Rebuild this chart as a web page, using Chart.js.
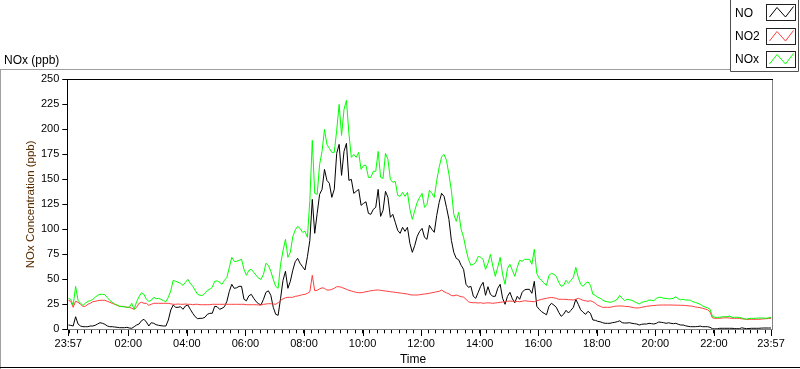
<!DOCTYPE html>
<html>
<head>
<meta charset="utf-8">
<script src="https://cdn.jsdelivr.net/npm/chart.js@4/dist/chart.umd.min.js"></script>
<style>
html,body{margin:0;padding:0;background:#ffffff;}
canvas{display:block;}
</style>
</head>
<body>
<canvas id="c" width="800" height="369"></canvas>
<script>
// ---- data (5-minute samples, first sample at 23:57 = -3 min from midnight) ----
const seriesNames = ['NO', 'NO2', 'NOx'];
const seriesColors = ['#000000', '#ff3d3d', '#00ff00'];
const startMinute = -3;
const stepMinutes = 5;

const noValues = [
  4.3, 4, 3.3, 12.6, 5.3, 3.3, 2.6, 2.6, 2.6, 3.3, 3.3, 4,
  5.3, 6.6, 6, 5, 3.3, 2.6, 2.6, 2.3, 2, 1.6, 1.6, 1.6,
  2, 1.3, 1, 2.6, 4.3, 5.3, 8.6, 10, 7.3, 3.3, 6.6, 6,
  4.6, 4, 3.6, 3.3, 3.3, 9.3, 19.3, 24.3, 22, 22, 22.6, 20,
  23.3, 24.3, 20, 16, 12.6, 10.6, 11, 11, 12, 15, 16, 16,
  23, 22.6, 20, 21, 22.6, 28, 38, 45, 41, 41.5, 43, 43,
  30, 28.5, 33.5, 35, 31, 27.6, 25.5, 24.5, 30, 37, 38.5, 34,
  22, 15, 14, 31, 49, 58, 41, 48, 59, 67.6, 71, 66,
  62.6, 59.3, 72.6, 89, 130, 96, 116, 135, 140, 160, 149, 146,
  132, 140, 176, 185, 154, 178, 186, 149, 150, 136, 138, 140,
  124, 126, 127.6, 116, 115, 120, 122, 140, 113, 119, 138, 132,
  112, 115, 107, 99, 96, 102, 98, 102, 86, 77, 84, 93,
  98, 101, 92, 90, 104, 100, 97, 114, 127, 136, 133, 122,
  110, 89, 77, 71, 69.5, 64, 60, 45, 42, 43, 33, 31,
  37, 43, 47, 34, 42.6, 35, 33, 33, 41, 45, 31, 25,
  33, 37, 30.5, 26.5, 33, 30, 37, 39.5, 40, 40, 36, 48,
  23, 20, 17.6, 16, 14.5, 23, 26, 24.3, 22, 17, 13, 15,
  19, 16.3, 19, 22, 30, 25, 19.5, 17, 15, 18, 16, 9.3,
  9, 8, 7.5, 6.6, 6, 6, 6, 6.6, 7, 7.6, 8.5, 6.6,
  6.3, 6.3, 6.6, 6, 5.6, 5.3, 4.3, 5, 5.3, 5.3, 6, 5.6,
  5.3, 6, 7.3, 7, 6.6, 6, 6.5, 6, 5.6, 6, 5, 4.3,
  4.3, 3.5, 3, 2.6, 2.6, 2.6, 2.8, 3.2, 2.6, 2.6, 2.6, 2,
  0.6, 0.4, 0.5, 1, 1, 1, 1, 1, 1, 0.8, 0.6, 0.6,
  1.5, 1, 0.6, 0.8, 1, 1, 1, 1, 1.2, 1.3, 1.3, 1.3,
  1.3
];

const no2Values = [
  29, 28, 22, 28, 27, 25, 23, 23, 25, 26, 27.6, 28,
  28.6, 29, 29, 29, 28, 27, 26, 25, 24, 23, 23, 22.6,
  22, 22, 21, 20, 22, 26, 27, 26, 26, 24, 25, 26,
  26, 26, 26, 26, 26, 26, 25.5, 25, 25, 25.3, 25, 25,
  25.3, 25, 25, 24.6, 25, 25, 24.6, 24.6, 24.6, 24.6, 24.6, 25,
  25, 25, 25, 25, 25, 25, 25, 25, 25, 25, 25, 25,
  25, 24.6, 24.6, 24.6, 24.6, 24.6, 24.3, 24.3, 25, 25.3, 25.6, 25.6,
  25.3, 25, 26.6, 29, 30.5, 31.5, 32, 32, 32, 33, 33.3, 34,
  34.6, 35, 36, 37.6, 54, 38.6, 39, 40.5, 41.5, 41, 39.3, 39.3,
  40, 41, 42.6, 42.6, 42, 41, 40, 39, 38.3, 37.6, 37, 36.6,
  36.6, 37, 37.6, 38, 38.6, 38.8, 39.3, 39.3, 39, 38.6, 38.3, 38,
  37.6, 37.3, 37, 36.6, 36.3, 36, 35.6, 35.3, 34.6, 34.3, 34.3, 34.3,
  34.6, 35, 35.3, 35.6, 36, 36.6, 37, 37.6, 38, 39.3, 37.6, 36.5,
  35.5, 33.8, 33.5, 34.3, 33.5, 32.6, 32.2, 30, 27.6, 26.8, 26.6, 26.6,
  26.3, 26.6, 26, 26.3, 26.5, 26.3, 26, 26.3, 26.6, 27, 27.3, 27.6,
  28, 28.3, 28, 28, 27.8, 27.6, 28, 28.6, 28.3, 28, 27.8, 27.6,
  28.5, 29.3, 30, 30.5, 31, 31.5, 31.8, 31.5, 31, 30, 30, 30,
  30, 29.6, 29.5, 29.3, 30, 31, 30, 29, 28.5, 28, 28.5, 27.6,
  26, 24, 23, 22, 22, 22, 22, 22.5, 23, 23.3, 23.3, 23.3,
  23, 22.8, 22.6, 22, 21.6, 21.3, 21.5, 22, 22.5, 23, 23.3, 23.6,
  23.8, 24, 24.2, 24.3, 24.3, 24.3, 24.3, 24.3, 24.2, 24.2, 24.1, 24,
  24, 23.8, 23.5, 23.3, 23, 22.3, 22, 21.6, 21, 20.3, 19.5, 17.5,
  11.5, 11, 11, 11, 11.3, 11.5, 11.5, 11.3, 11, 11, 11, 11,
  10.5, 10.2, 10, 10, 10, 10, 10, 10, 10.2, 10.4, 10.6, 10.8,
  11
];

const noxValues = [
  31, 30, 24, 43, 29, 26, 24, 26, 28, 28.6, 30, 32,
  34, 35, 35, 34.6, 31.6, 29, 27, 25.3, 24.3, 23, 22.6, 22.6,
  22, 22, 26, 20, 27.6, 32.6, 36.6, 35, 30, 28, 29, 32,
  30.6, 31, 30, 28.6, 27.6, 32, 38.6, 49, 48, 47, 46, 44,
  47, 50, 46, 43, 39, 35, 34, 34, 36, 39, 40, 42,
  48, 48.5, 47, 45, 49, 52, 62, 72, 68, 68, 69, 70,
  60, 54, 59, 60, 57, 54, 51, 50, 55, 66, 64, 58,
  50, 43, 41, 65, 78.6, 90, 72, 77, 92.6, 99.3, 103, 101,
  97, 98, 92, 129, 189, 136, 135, 165, 178, 200, 185, 181,
  177, 177, 199, 225, 194, 220, 229, 196, 172, 175, 172, 177,
  160, 164, 164, 152, 152, 158, 158, 178, 152, 151, 176, 170,
  150, 147, 148, 134, 133, 137, 133, 137, 120, 110, 119, 127,
  132, 136, 122, 125, 139, 136, 132, 149, 162, 172.6, 175, 169,
  155, 139, 115, 108, 117, 100, 92, 80, 70, 64, 65, 67,
  73, 72, 70, 60, 66, 75, 63, 53, 62, 72, 55, 45,
  61, 65, 59, 53, 62, 69, 68, 70, 70, 70, 65, 80,
  56, 51, 49, 46, 44, 54, 56, 55, 53, 47, 43, 44,
  49, 46, 49, 52, 62, 52, 45, 43, 46, 47.5, 44, 35,
  34, 32, 31, 29.3, 28, 27.5, 27, 27.6, 28.5, 30, 34, 31,
  28.6, 30, 29.5, 29, 27.6, 26.5, 25.3, 27, 27.6, 28, 29.3, 29,
  28.6, 31, 32, 32, 31, 31, 30.5, 30.5, 31, 32.6, 30.5, 29.5,
  30, 29.3, 29.3, 29, 27.6, 26.8, 26, 25, 23.3, 22.3, 21.5, 20,
  13, 12, 12, 12, 12.6, 12.6, 12.6, 13.3, 12, 12, 12, 12,
  11.3, 10.6, 10, 11, 11, 11, 11, 11.3, 11.3, 11.3, 11, 11.5,
  12
];

// ---- axis ticks and titles ----
const xTickMinutes = [-3, 120, 240, 360, 480, 600, 720, 840, 960, 1080, 1200, 1320, 1437];
const xTickLabels = ['23:57', '02:00', '04:00', '06:00', '08:00', '10:00', '12:00', '14:00', '16:00', '18:00', '20:00', '22:00', '23:57'];
const xMinorStep = 15;
const yTicks = [0, 25, 50, 75, 100, 125, 150, 175, 200, 225, 250];
const xTitle = 'Time';
const yTitle = 'NOx Concentration (ppb)';
const chartTitle = 'NOx (ppb)';

// ---- build ----
const FONT = "'Liberation Sans', Arial, sans-serif";
const times = noValues.map((_, i) => startMinute + i * stepMinutes);
const toPoints = arr => arr.map((v, i) => ({x: times[i], y: v}));
const allXTicks = [-3];
for (let m = 0; m <= 1425; m += xMinorStep) allXTicks.push(m);
allXTicks.push(1437);

const valueSets = [noValues, no2Values, noxValues];
const drawOrder = [2, 1, 0];
const datasets = seriesNames.map((n, i) => ({
  label: n,
  data: toPoints(valueSets[i]),
  borderColor: seriesColors[i],
  borderWidth: 1,
  pointRadius: 0,
  tension: 0,
  fill: false,
  order: drawOrder[i]
}));

const framePlugin = {
  id: 'frame',
  afterDraw(chart) {
    const {ctx, chartArea: a} = chart;
    ctx.save();
    // outer panel frame
    ctx.fillStyle = '#a0a0a0';
    ctx.fillRect(0, 69, 730, 1);
    ctx.fillRect(0, 69, 1, 300);
    ctx.fillStyle = '#000000';
    ctx.fillRect(0, 367, 800, 1);
    // plot frame
    const L = Math.round(a.left), R = Math.round(a.right) + 1, T = Math.round(a.top), B = Math.round(a.bottom);
    ctx.fillStyle = '#808080';
    ctx.fillRect(R, T, 1, B - T + 1);
    ctx.fillRect(L, B, R - L + 1, 1);
    ctx.fillStyle = '#000000';
    ctx.fillRect(L, T, R - L + 1, 1);
    ctx.fillRect(L - 1, T, 1, B - T + 1);
    // longer major ticks on time axis
    const xs = chart.scales.x;
    ctx.strokeStyle = '#000000';
    ctx.lineWidth = 1;
    xTickMinutes.forEach(m => {
      const px = Math.round(xs.getPixelForValue(m)) + 0.5;
      ctx.beginPath();
      ctx.moveTo(px, B + 1);
      ctx.lineTo(px, B + 7);
      ctx.stroke();
    });
    // x axis title
    ctx.fillStyle = '#000000';
    ctx.font = '12px ' + FONT;
    ctx.textAlign = 'center';
    ctx.textBaseline = 'middle';
    ctx.fillText(xTitle, 413, 360);
    // legend
    ctx.fillStyle = '#ffffff';
    ctx.fillRect(731, 0, 68, 71);
    ctx.strokeStyle = '#505050';
    ctx.beginPath();
    ctx.moveTo(730.5, 0);
    ctx.lineTo(730.5, 71.5);
    ctx.lineTo(798.5, 71.5);
    ctx.lineTo(798.5, 0);
    ctx.stroke();
    const rowY = [12, 35.5, 58.5];
    ctx.font = '12px ' + FONT;
    ctx.textBaseline = 'middle';
    ctx.textAlign = 'left';
    chart.data.datasets.forEach((ds, i) => {
      const cy = rowY[i];
      ctx.fillStyle = '#000000';
      ctx.fillText(ds.label, 735, cy + 1.5);
      const bx = 766.5, by = Math.round(cy - 8) + 0.5, bw = 29, bh = 16;
      ctx.strokeStyle = '#202020';
      ctx.lineWidth = 1;
      ctx.strokeRect(bx, by, bw, bh);
      ctx.strokeStyle = ds.borderColor;
      ctx.beginPath();
      ctx.moveTo(bx + 3, by + 12.5);
      ctx.lineTo(bx + 10.5, by + 3);
      ctx.lineTo(bx + 19, by + 12.5);
      ctx.lineTo(bx + 27, by + 2);
      ctx.stroke();
    });
    ctx.restore();
  }
};

new Chart(document.getElementById('c'), {
  type: 'line',
  data: {datasets},
  plugins: [framePlugin],
  options: {
    responsive: false,
    animation: false,
    devicePixelRatio: 1,
    layout: {padding: {left: 4, right: 29, top: 0, bottom: 0}},
    plugins: {
      legend: {display: false},
      tooltip: {enabled: false},
      title: {
        display: true,
        text: chartTitle,
        align: 'start',
        color: '#000000',
        font: {family: FONT, size: 12, weight: 'normal'},
        padding: {top: 53, bottom: 12}
      }
    },
    scales: {
      x: {
        type: 'linear',
        min: -3,
        max: 1437,
        afterBuildTicks: s => { s.ticks = allXTicks.map(v => ({value: v})); },
        afterFit: s => { s.height = 39.7; },
        ticks: {
          autoSkip: false,
          maxRotation: 0,
          minRotation: 0,
          padding: 4,
          color: '#000000',
          font: {family: FONT, size: 11},
          callback: v => { const k = xTickMinutes.indexOf(v); return k >= 0 ? xTickLabels[k] : ''; }
        },
        grid: {drawOnChartArea: false, drawTicks: true, tickLength: 4, tickColor: '#000000'},
        border: {display: false},
        title: {display: false}
      },
      y: {
        min: 0,
        max: 250,
        afterBuildTicks: s => { s.ticks = yTicks.map(v => ({value: v})); },
        afterFit: s => { s.width = 64.3; },
        ticks: {padding: 3, color: '#000000', font: {family: FONT, size: 11}},
        grid: {drawOnChartArea: false, drawTicks: true, tickLength: 6, tickColor: '#000000'},
        border: {display: false},
        title: {display: true, text: yTitle, color: '#5a2d00', font: {family: FONT, size: 11.5}, padding: {top: 20, bottom: 0}}
      }
    }
  }
});
</script>
</body>
</html>
